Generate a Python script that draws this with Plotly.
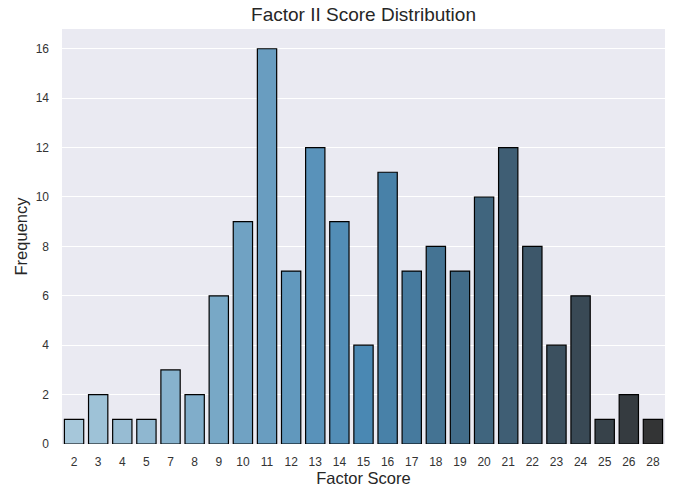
import plotly.graph_objects as go
from plotly.colors import sample_colorscale

# dados
scores = ["2", "3", "4", "5", "7", "8", "9", "10", "11", "12", "13", "14", "15",
          "16", "17", "18", "19", "20", "21", "22", "23", "24", "25", "26", "28"]
frequency = [1, 2, 1, 1, 3, 2, 6, 9, 16, 7, 12, 9, 4,
             11, 7, 8, 7, 10, 12, 8, 4, 6, 1, 2, 1]

# paleta tipo "Blues_d"
SCALE = [[0.0, "rgb(166,199,218)"], [0.5, "rgb(74,136,179)"], [1.0, "rgb(51,52,53)"]]
n = len(scores)
colors = sample_colorscale(SCALE, [i / (n - 1) for i in range(n)])

fig = go.Figure(go.Bar(
    x=scores, y=frequency,
    marker=dict(color=colors, line=dict(color="black", width=1.2)),
    width=0.8,
))

fig.update_layout(
    width=693, height=490,
    title=dict(text="Factor II Score Distribution", xref="paper", x=0.5, xanchor="center",
               yref="container", y=1 - 14 / 490, yanchor="middle",
               font=dict(size=19, color="#262626")),
    font=dict(family="Liberation Sans, Arial, sans-serif", size=12, color="#333333"),
    plot_bgcolor="#EAEAF2",
    paper_bgcolor="white",
    margin=dict(l=62, r=28, t=29, b=46, autoexpand=False),
    showlegend=False,
    xaxis=dict(
        title=dict(text="Factor Score", font=dict(size=16.5, color="#262626"), standoff=3),
        type="category", showgrid=False, zeroline=False, automargin=False,
        ticklabelstandoff=9, tickfont=dict(size=12),
    ),
    yaxis=dict(
        title=dict(text="Frequency", font=dict(size=16.5, color="#262626"), standoff=3),
        range=[0, 16.8], dtick=2, showgrid=True, gridcolor="white", gridwidth=1.2,
        zeroline=False, automargin=False, ticklabelstandoff=12, tickfont=dict(size=12),
    ),
)

# sem a margem padrão do <body>
fig.write_html("out.html", config={"displayModeBar": False},
               post_script="document.body.style.margin = '0';")
